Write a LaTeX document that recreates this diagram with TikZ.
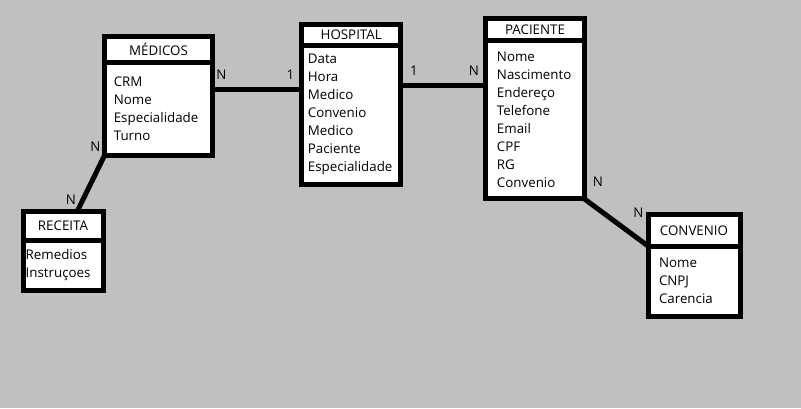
\documentclass[tikz,border=0pt]{standalone}
\usepackage{fontspec}
\setmainfont{Open Sans}
\definecolor{fundo}{HTML}{C0C0C0}
\tikzset{
  caixa/.style={draw, line width=3.75pt, fill=white, inner sep=0pt, outer sep=0pt},
  titulo/.style={caixa, anchor=north west, font=\fontsize{10}{12}\selectfont},
  corpo/.style={caixa, anchor=north west, align=left, font=\fontsize{10}{13.5}\selectfont},
  liga/.style={line width=3.75pt},
  card/.style={inner sep=0pt, font=\fontsize{10}{12}\selectfont}
}
\begin{document}
\begin{tikzpicture}[x=0.75pt, y=-0.75pt]
            \fill[fundo] (0, 0) rectangle (801, 408);

            % entidades
            \node[titulo, minimum width=81pt, minimum height=19.5pt] (medicosH) at (104.5, 36.5) {MÉDICOS};
            \node[corpo, minimum height=69.75pt, text width=67pt, inner xsep=7pt] (medicosC) at (medicosH.south west) {CRM\\ Nome\\ Especialidade\\ Turno};

            \node[titulo, minimum width=74.6pt, minimum height=15.4pt] (hospitalH) at (301.5, 24.5) {HOSPITAL};
            \node[corpo, minimum height=104.25pt, text width=65pt, inner xsep=4.8pt] (hospitalC) at (hospitalH.south west) {Data\\ Hora\\ Medico\\ Convenio\\ Medico\\ Paciente\\ Especialidade};

            \node[titulo, minimum width=74.25pt, minimum height=16.35pt] (pacienteH) at (485.5, 18.5) {PACIENTE};
            \node[corpo, minimum height=119pt, text width=57pt, inner xsep=8.6pt] (pacienteC) at (pacienteH.south west) {Nome\\ Nascimento\\ Endereço\\ Telefone\\ Email\\ CPF\\ RG\\ Convenio};

            \node[titulo, minimum width=60pt, minimum height=21.15pt] (receitaH) at (23, 211.8) {RECEITA};
            \node[corpo, minimum height=37.5pt, text width=56pt, inner xsep=2pt] (receitaC) at (receitaH.south west) {Remedios\\ Instruçoes};

            \node[titulo, minimum width=69pt, minimum height=23.4pt] (convenioH) at (648, 214.8) {CONVENIO};
            \node[corpo, minimum height=52.5pt, text width=52.5pt, inner xsep=8.25pt] (convenioC) at (convenioH.south west) {Nome\\ CNPJ\\ Carencia};

            % relacionamentos
            \draw[liga] ([yshift=15pt]medicosC.east) -- ([yshift=15pt]medicosC.east -| hospitalC.west);
            \draw[liga] ([yshift=22.1pt]hospitalC.east) -- ([yshift=22.1pt]hospitalC.east -| pacienteC.west);
            \draw[liga] (medicosC.south west) -- ([xshift=10.5pt]receitaH.north);
            \draw[liga] (pacienteC.south east) -- (convenioH.south west);

            % cardinalidades
            \node[card] (nMedHosp) at (221.5, 74.5) {N};
            \node[card] (umMedHosp) at (290.5, 74.5) {1};
            \node[card] (umHospPac) at (414, 71) {1};
            \node[card] (nHospPac) at (474, 71) {N};
            \node[card] (nMedRec) at (95.5, 147) {N};
            \node[card] (nRecMed) at (71, 200) {N};
            \node[card] (nPacConv) at (598, 182) {N};
            \node[card] (nConvPac) at (638.5, 213) {N};
\end{tikzpicture}
\end{document}
